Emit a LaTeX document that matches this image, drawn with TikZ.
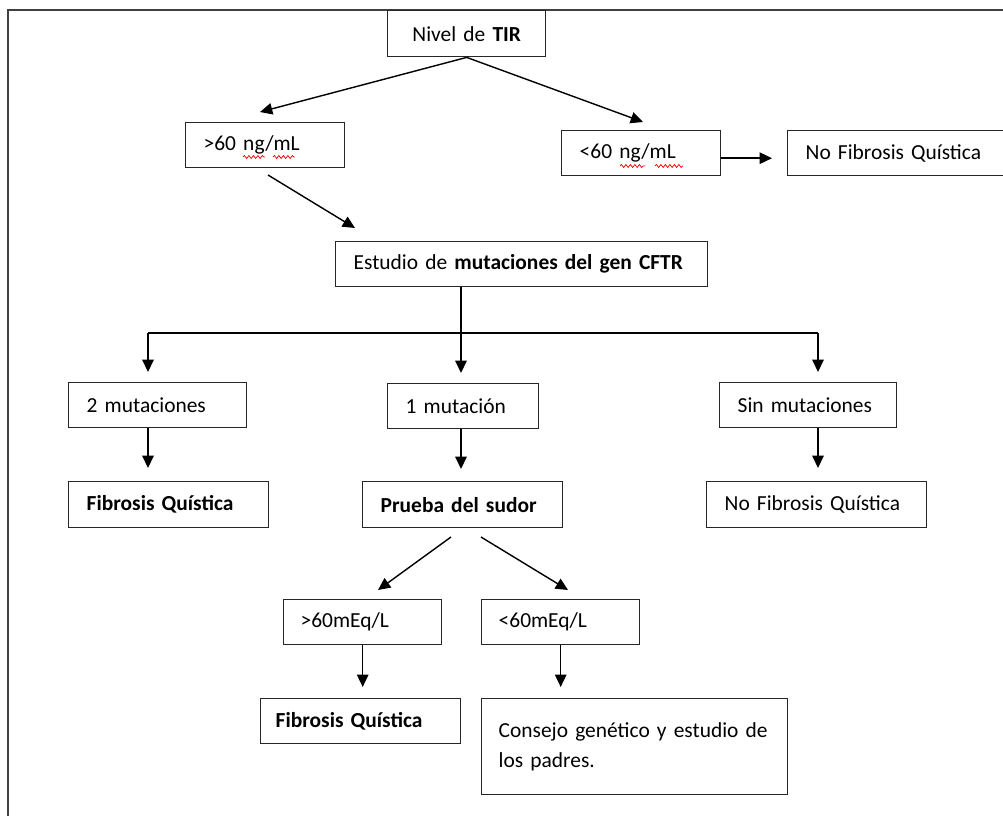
\documentclass[tikz,border=0pt]{standalone}
\usepackage{fontspec}
\setmainfont{Carlito}
\usetikzlibrary{arrows.meta,decorations.pathmorphing}

\begin{document}
\begin{tikzpicture}[x=0.02cm,y=-0.02cm,>={Triangle[length=7pt,width=6.5pt]},
  line width=0.8pt,
  flow box/.style={draw=black!85,rectangle,anchor=north west,inner xsep=0.36cm,
    inner ysep=0pt,minimum height=0.9cm,align=left,font=\fontsize{12.2}{17}\selectfont},
  link/.style={->,draw=black},
  spell/.style={draw=red,line width=0.4pt,decorate,
    decoration={snake,segment length=0.09cm,amplitude=0.03cm}}]
  \useasboundingbox (0,0) rectangle (1003,815);
  \clip (0,0) rectangle (1003,815);
  \draw[black!75,line width=1pt] (8,10) rectangle (1040,860);

  % first level
  \node[flow box,align=center,text width=2.44cm,minimum height=0.92cm] (tir) at (387,10) {Nivel de \textbf{TIR}};
  \node[flow box,text width=2.46cm] (gt) at (185,122) {>60 ng/mL};
  \node[flow box,text width=2.46cm] (lt) at (561,130) {<60 ng/mL};
  \node[flow box,text width=4.08cm] (nofq top) at (787,130) {No Fibrosis Quística};
  \node[flow box,text width=6.72cm] (est) at (335,241) {Estudio de \textbf{mutaciones del gen CFTR}};

  % spelling marks under ng and mL
  \draw[spell] ([shift={(58,35)}]gt.north west) -- ++(22,0);
  \draw[spell] ([shift={(88,35)}]gt.north west) -- ++(22,0);
  \draw[spell] ([shift={(59,36)}]lt.north west) -- ++(25,0);
  \draw[spell] ([shift={(94,36)}]lt.north west) -- ++(28,0);

  % mutations
  \node[flow box,text width=2.84cm] (dos) at (68,382) {2 mutaciones};
  \node[flow box,text width=2.30cm] (uno) at (387,383) {1 mutación};
  \node[flow box,text width=2.82cm] (sin) at (719,382) {Sin mutaciones};
  \node[flow box,text width=3.28cm,minimum height=0.92cm] (fq left) at (68,481) {\textbf{Fibrosis Quística}};
  \node[flow box,text width=3.28cm,minimum height=0.92cm] (sudor) at (362,481) {\textbf{Prueba del sudor}};
  \node[flow box,text width=3.68cm,minimum height=0.92cm] (nofq mid) at (706,481) {No Fibrosis Quística};

  % sweat test
  \node[flow box,inner xsep=0.34cm,text width=2.48cm] (gtmeq) at (283,599) {>60mEq/L};
  \node[flow box,inner xsep=0.34cm,text width=2.48cm] (ltmeq) at (481,599) {<60mEq/L};
  \node[flow box,inner xsep=0.3cm,text width=3.4cm] (fq low) at (260,698) {\textbf{Fibrosis Quística}};
  \node[flow box,inner xsep=0.34cm,text width=5.44cm,minimum height=1.92cm] (consejo) at (481,698)
    {Consejo genético y estudio de\\los padres.};

  \coordinate (gt in) at (260,112);
  \coordinate (lt in) at (643,122);
  \coordinate (gt out) at (268,175);
  \coordinate (est in) at (355,228);
  \coordinate (split) at (461,333);
  \coordinate (bus left) at (148,333);
  \coordinate (bus right) at (818,333);
  \coordinate (sweat left) at (451,537);
  \coordinate (sweat right) at (481,537);
  \coordinate (gtmeq in) at (378,590);
  \coordinate (ltmeq in) at (568,590);

  \draw[link] (tir.south) -- (gt in);
  \draw[link] (tir.south) -- (lt in);
  \draw[link,shorten >=0.3cm] ([yshift=-0.1cm]lt.east) -- ([yshift=-0.1cm]nofq top.west);
  \draw[link] (gt out) -- (est in);
  \draw (split |- est.south) -- (split);
  \draw (bus left) -- (bus right);
  \draw[link,shorten >=0.2cm] (bus left) -- (bus left |- dos.north);
  \draw[link,shorten >=0.2cm] (split) -- (split |- uno.north);
  \draw[link,shorten >=0.2cm] (bus right) -- (bus right |- sin.north);
  \draw[link,shorten >=0.26cm] (bus left |- dos.south) -- (bus left |- fq left.north);
  \draw[link,shorten >=0.24cm] (split |- uno.south) -- (split |- sudor.north);
  \draw[link,shorten >=0.26cm] (bus right |- sin.south) -- (bus right |- nofq mid.north);
  \draw[link] (sweat left) -- (gtmeq in);
  \draw[link] (sweat right) -- (ltmeq in);
  \draw[link,shorten >=0.22cm] (gtmeq.south) -- (gtmeq.south |- fq low.north);
  \draw[link,shorten >=0.22cm] (ltmeq.south) -- (ltmeq.south |- consejo.north);
\end{tikzpicture}
\end{document}
